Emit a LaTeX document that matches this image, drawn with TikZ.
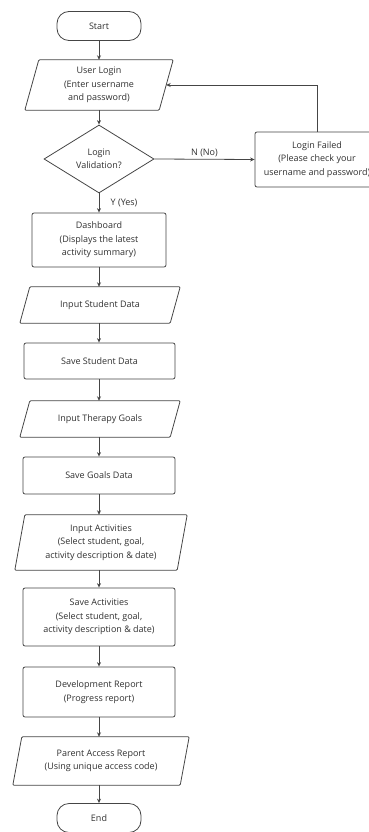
\documentclass[tikz,border=0pt]{standalone}
\usepackage{fontspec}
\setmainfont{Open Sans}
\usetikzlibrary{shapes.geometric,arrows.meta}
\definecolor{ln}{HTML}{454545}
\definecolor{tx}{HTML}{303030}
\tikzset{
  every node/.style={font=\fontsize{9}{13.5}\selectfont, text=tx, align=center},
  box/.style={draw=ln, line width=0.8pt, rounded corners=2pt, inner sep=0pt},
  txt/.style={inner sep=0pt},
  term/.style={draw=ln, line width=0.8pt, rounded corners=12pt, minimum width=84pt, minimum height=29pt, inner sep=0pt},
  dia/.style={draw=ln, line width=0.8pt, diamond, inner sep=0pt, minimum width=110pt, minimum height=68pt},
  shp/.style={draw=ln, line width=0.8pt, rounded corners=1pt},
  arr/.style={draw=ln, line width=0.8pt, -{Stealth[length=4.5pt,width=4pt]}},
}
\newcommand{\pgram}[2]{%
  \draw[shp] ([xshift=#2]#1.north west) -- ([xshift=#2]#1.north east) -- ([xshift=-#2]#1.south east) -- ([xshift=-#2]#1.south west) -- cycle;}
\begin{document}
\begin{tikzpicture}[x=1pt,y=-1pt]
\useasboundingbox (0,0) rectangle (369,832);
\clip (0,0) rectangle (369,832);
\node[term] (start) at (99,26) {Start};
\node[txt, minimum width=134pt, minimum height=50pt] (login) at (99,85) {User Login\\(Enter username\\and password)};
\pgram{login}{7pt}
\node[dia] (val) at (99,159) {Login\\Validation?};
\node[box, minimum width=124pt, minimum height=55pt] (fail) at (317,159.5) {Login Failed\\(Please check your\\username and password)};
\node[box, minimum width=134pt, minimum height=54pt] (dash) at (99,240) {Dashboard\\(Displays the latest\\activity summary)};
\node[txt, minimum width=150pt, minimum height=36pt] (isd) at (100,305) {Input Student Data};
\pgram{isd}{5pt}
\node[box, minimum width=151pt, minimum height=36pt] (ssd) at (99.5,361) {Save Student Data};
\node[txt, minimum width=150pt, minimum height=36pt] (itg) at (100,419) {Input Therapy Goals};
\pgram{itg}{5pt}
\node[box, minimum width=152pt, minimum height=37pt] (sgd) at (99,475.5) {Save Goals Data};
\node[txt, minimum width=162pt, minimum height=55pt] (ia) at (101,542.5) {Input Activities\\(Select student, goal,\\activity description \& date)};
\pgram{ia}{5pt}
\node[box, minimum width=152pt, minimum height=58pt] (sa) at (99,617) {Save Activities\\(Select student, goal,\\activity description \& date)};
\node[box, minimum width=152pt, minimum height=50pt] (dr) at (99,692) {Development Report\\(Progress report)};
\node[txt, minimum width=167pt, minimum height=48pt] (par) at (101,761) {Parent Access Report\\(Using unique access code)};
\pgram{par}{4.5pt}
\node[term] (end) at (99,818) {End};
\coordinate (c1) at (fail.north |- login.east);
\draw[arr] (start) -- (login.north -| start);
\draw[arr] (login.south -| start) -- (val.north);
\draw[arr] (val.east) -- node[above, yshift=-1pt] {N (No)} (fail.west);
\draw[arr] (fail.north) -- (c1) -- (login.east);
\draw[arr] (val.south) -- node[right, xshift=8pt] {Y (Yes)} (dash.north);
\draw[arr] (dash.south) -- (isd.north -| start);
\draw[arr] (isd.south -| start) -- (ssd.north -| start);
\draw[arr] (ssd.south -| start) -- (itg.north -| start);
\draw[arr] (itg.south -| start) -- (sgd.north -| start);
\draw[arr] (sgd.south -| start) -- (ia.north -| start);
\draw[arr] (ia.south -| start) -- (sa.north -| start);
\draw[arr] (sa.south -| start) -- (dr.north -| start);
\draw[arr] (dr.south -| start) -- (par.north -| start);
\draw[arr] (par.south -| start) -- (end.north);
\end{tikzpicture}
\end{document}
